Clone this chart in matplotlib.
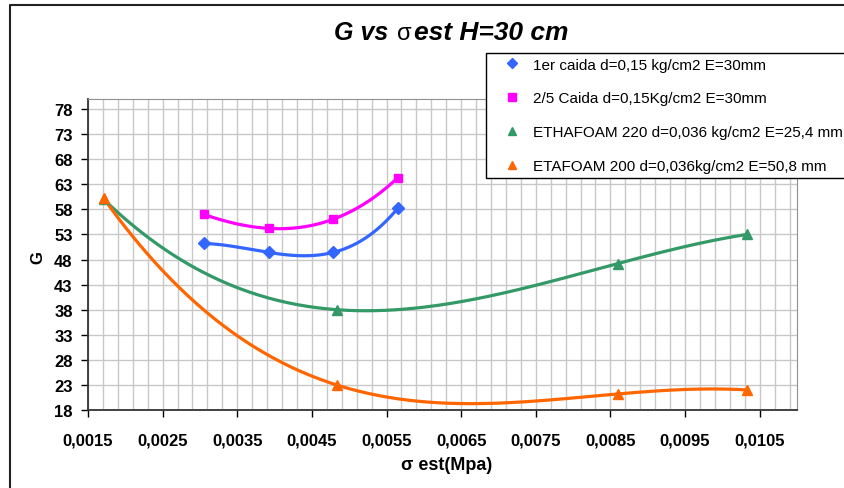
import numpy as np
import matplotlib
matplotlib.use('Agg')
import matplotlib.pyplot as plt
from matplotlib.lines import Line2D

plt.rcParams['font.family'] = ['Liberation Sans', 'DejaVu Sans']

# data (sigma est in MPa, G)
x_caida1 = [0.00305, 0.003925, 0.00478, 0.00565]
g_caida1 = [51.2, 49.4, 49.4, 58.2]
x_caida25 = [0.00305, 0.003925, 0.00478, 0.00565]
g_caida25 = [57.0, 54.2, 56.0, 64.3]
x_etha220 = [0.00171, 0.00483, 0.0086, 0.01033]
g_etha220 = [60.0, 38.0, 47.2, 53.0]
x_eta200 = [0.00171, 0.00483, 0.0086, 0.01033]
g_eta200 = [60.2, 23.0, 21.2, 22.0]

labels = ['1er caida d=0,15 kg/cm2 E=30mm',
          '2/5 Caida d=0,15Kg/cm2 E=30mm',
          'ETHAFOAM 220 d=0,036 kg/cm2 E=25,4 mm',
          'ETAFOAM 200 d=0,036kg/cm2 E=50,8 mm']
xticks = [0.0015, 0.0025, 0.0035, 0.0045, 0.0055, 0.0065, 0.0075, 0.0085, 0.0095, 0.0105]
xticklabels = ['0,0015', '0,0025', '0,0035', '0,0045', '0,0055', '0,0065',
               '0,0075', '0,0085', '0,0095', '0,0105']
yticks = [18, 23, 28, 33, 38, 43, 48, 53, 58, 63, 68, 73, 78]

series = [
    (x_caida1, g_caida1, '#3366FF', 'D', 6),
    (x_caida25, g_caida25, '#FF00FF', 's', 6),
    (x_etha220, g_etha220, '#339966', '^', 7.5),
    (x_eta200, g_eta200, '#FF6600', '^', 7.5),
]

fig = plt.figure(figsize=(8.45, 4.89), dpi=100)
ax = fig.add_axes([88 / 845, 1 - 411 / 489, (797 - 88) / 845, (411 - 100) / 489])

# outer chart frame, only top and left edges show
fy = 1 - 6 / 489
fx = 10 / 845
fig.lines.append(Line2D([fx, fx, 1.05], [-0.05, fy, fy], transform=fig.transFigure,
                        color='#222222', lw=1.5))

handles = []
for (xs, gs, col, mk, ms), lab in zip(series, labels):
    # polynomial trendline (order 3) like the spreadsheet
    coef = np.polyfit(xs, gs, 3)
    xx = np.linspace(min(xs), max(xs), 200)
    ax.plot(xx, np.polyval(coef, xx), color=col, lw=2.3, zorder=3)
    h, = ax.plot(xs, gs, ls='none', marker=mk, ms=ms, color=col, label=lab, zorder=4)
    handles.append(h)

ax.set_xlim(0.0015, 0.011)
ax.set_ylim(18, 80)
ax.set_xticks(xticks)
ax.set_xticklabels(xticklabels)
ax.set_xticks(np.arange(0.0015, 0.01101, 0.0002), minor=True)
ax.set_yticks(yticks)
ax.tick_params(axis='x', which='minor', length=0)
ax.tick_params(axis='both', which='major', direction='out', length=5, width=1,
               labelsize=12, colors='black')
ax.tick_params(axis='x', which='major', pad=11)
ax.tick_params(axis='y', which='major', pad=6)
for t in ax.get_xticklabels() + ax.get_yticklabels():
    t.set_fontweight('bold')

ax.grid(True, which='both', axis='x', color='#C8C8C8', lw=1)
ax.grid(True, which='major', axis='y', color='#C8C8C8', lw=1)
ax.set_axisbelow(True)

ax.spines['left'].set_color('#333333')
ax.spines['bottom'].set_color('#333333')
ax.spines['left'].set_linewidth(1.3)
ax.spines['bottom'].set_linewidth(1.3)
ax.spines['top'].set_color('#909090')
ax.spines['right'].set_color('#909090')

# title with sigma in an upright face
ty = 1 - 40 / 489
fig.text(388 / 845, ty, 'G vs', ha='right', va='baseline',
         fontsize=18, fontweight='bold', fontstyle='italic')
fig.text(404 / 845, ty, 'σ', ha='center', va='baseline', fontsize=17)
fig.text(414 / 845, ty, 'est H=30 cm', ha='left', va='baseline',
         fontsize=19, fontweight='bold', fontstyle='italic')

fig.text(447 / 845, 1 - 466 / 489, 'σ est(Mpa)', ha='center', va='center',
         fontsize=13, fontweight='bold')
fig.text(38 / 845, 1 - 258 / 489, 'G', ha='center', va='center', rotation=90,
         fontsize=12, fontweight='bold')

leg = fig.legend(handles=handles, loc='upper left',
                 bbox_to_anchor=(486 / 845, 1 - 54 / 489), frameon=True,
                 fancybox=False, edgecolor='black', framealpha=1,
                 fontsize=11, labelspacing=1.3, handlelength=2.75,
                 handletextpad=0.0, borderpad=0.3, borderaxespad=0,
                 markerscale=0.85)
leg.get_frame().set_linewidth(1.0)
leg.set_zorder(10)

fig.savefig('out.png', dpi=100)
